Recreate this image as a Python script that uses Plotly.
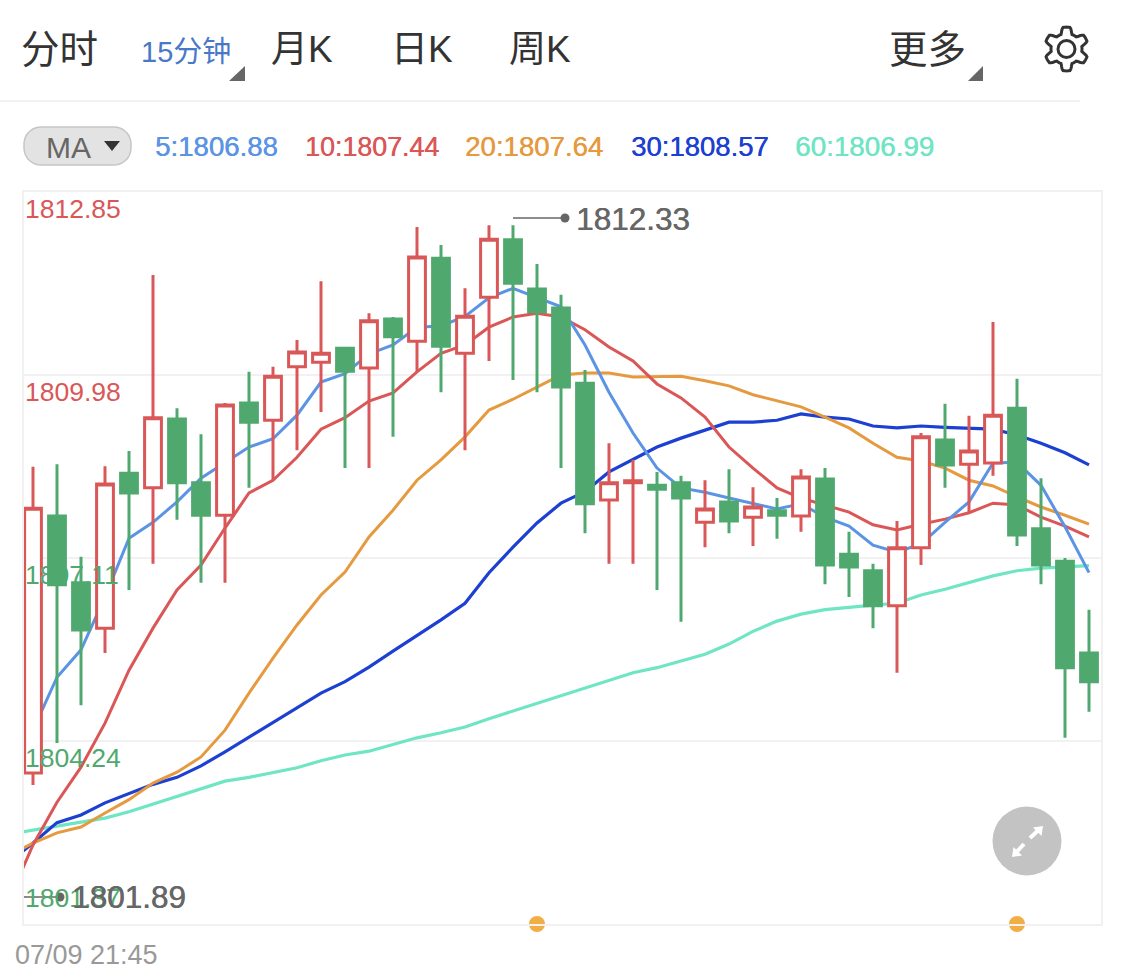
import math
import plotly.graph_objects as go

# ---------- data ----------
candle_index = list(range(45))
opens = [1803.74,1807.77,1806.72,1806.01,1808.44,1808.21,1809.29,1808.29,1807.78,1809.54,
         1809.27,1810.11,1810.18,1810.40,1810.09,1810.86,1810.51,1811.81,1810.32,1811.20,
         1812.10,1811.33,1811.03,1809.85,1808.02,1808.29,1808.25,1808.29,1807.67,1807.99,
         1807.75,1807.85,1807.77,1808.35,1807.17,1806.91,1806.36,1807.27,1808.96,1808.58,
         1808.60,1809.46,1807.57,1807.06,1805.62]
highs = [1808.54,1808.58,1807.13,1808.55,1808.79,1811.55,1809.46,1809.05,1809.54,1810.03,
         1810.11,1810.53,1811.45,1810.40,1810.95,1810.89,1812.30,1812.02,1811.34,1812.33,
         1812.33,1811.72,1811.24,1810.06,1808.91,1808.65,1808.46,1808.40,1808.33,1808.50,
         1808.22,1808.05,1808.50,1808.52,1807.52,1807.02,1807.69,1809.07,1809.53,1809.34,
         1810.81,1809.92,1808.36,1807.11,1806.30]
lows = [1803.55,1804.21,1804.80,1805.62,1806.61,1807.02,1807.71,1806.72,1806.72,1808.21,
        1808.33,1808.80,1809.40,1808.52,1808.52,1809.01,1810.03,1809.71,1808.80,1810.20,
        1809.90,1809.71,1808.52,1807.50,1807.02,1807.02,1806.61,1806.11,1807.28,1807.50,
        1807.30,1807.41,1807.52,1806.70,1806.50,1806.01,1805.31,1807.00,1808.21,1807.83,
        1808.40,1807.30,1806.70,1804.29,1804.70]
closes = [1807.89,1806.69,1805.98,1808.27,1808.13,1809.31,1808.29,1807.78,1809.51,1809.24,
          1809.96,1810.34,1810.32,1810.04,1810.83,1810.58,1811.83,1810.43,1810.90,1812.11,
          1811.42,1810.97,1809.79,1807.96,1808.29,1808.32,1808.19,1808.05,1807.88,1807.69,
          1807.91,1807.78,1808.38,1807.00,1806.97,1806.36,1807.27,1809.01,1808.57,1808.79,
          1809.35,1807.47,1807.00,1805.39,1805.17]

ma_index = list(range(-1, 45))
ma5 = [1803.47,1804.41,1805.24,1805.67,1806.50,1807.42,1807.67,1807.99,1808.36,1808.61,
       1808.85,1808.98,1809.35,1809.87,1810.00,1810.31,1810.45,1810.73,1810.75,1810.90,
       1811.19,1811.34,1811.19,1811.05,1810.45,1809.71,1809.07,1808.52,1808.21,1808.14,
       1808.05,1807.96,1807.88,1807.96,1807.75,1807.61,1807.31,1807.20,1807.33,1807.67,
       1807.99,1808.60,1808.61,1808.25,1807.60,1806.88]
ma10 = [1801.75,1802.61,1803.28,1803.83,1804.52,1805.35,1806.01,1806.61,1807.00,1807.58,
        1808.13,1808.33,1808.69,1809.13,1809.31,1809.57,1809.70,1810.03,1810.32,1810.45,
        1810.73,1810.89,1810.95,1810.89,1810.69,1810.42,1810.20,1809.84,1809.62,1809.32,
        1808.85,1808.52,1808.21,1808.05,1807.94,1807.83,1807.63,1807.55,1807.64,1807.72,
        1807.82,1807.97,1807.94,1807.75,1807.61,1807.44]
ma20 = [1802.44,1802.64,1802.80,1802.89,1803.11,1803.32,1803.58,1803.75,1803.99,1804.41,
        1804.99,1805.54,1806.06,1806.53,1806.89,1807.44,1807.86,1808.33,1808.65,1809.01,
        1809.43,1809.60,1809.79,1809.98,1810.01,1810.01,1809.95,1809.95,1809.96,1809.89,
        1809.81,1809.67,1809.57,1809.48,1809.32,1809.15,1808.91,1808.69,1808.63,1808.52,
        1808.33,1808.24,1808.07,1807.91,1807.78,1807.64]
ma30 = [1802.34,1802.64,1802.96,1803.08,1803.27,1803.42,1803.56,1803.67,1803.85,1804.07,
        1804.30,1804.54,1804.77,1804.99,1805.17,1805.40,1805.65,1805.89,1806.14,1806.40,
        1806.88,1807.28,1807.66,1807.97,1808.15,1808.46,1808.66,1808.85,1808.99,1809.12,
        1809.24,1809.24,1809.27,1809.37,1809.32,1809.29,1809.18,1809.15,1809.18,1809.16,
        1809.15,1809.13,1809.04,1808.91,1808.76,1808.57]
ma60 = [1802.78,1802.84,1802.91,1802.96,1803.03,1803.13,1803.25,1803.38,1803.50,1803.61,
        1803.67,1803.74,1803.82,1803.93,1804.02,1804.08,1804.18,1804.29,1804.37,1804.46,
        1804.59,1804.71,1804.84,1804.96,1805.07,1805.20,1805.31,1805.39,1805.50,1805.60,
        1805.76,1805.96,1806.12,1806.23,1806.30,1806.34,1806.37,1806.40,1806.53,1806.62,
        1806.73,1806.83,1806.91,1806.95,1806.97,1806.99]

price_ticks = [1812.85, 1809.98, 1807.11, 1804.24, 1801.37]
price_tick_labels = ["1812.85", "1809.98", "1807.11", "1804.24", "1801.37"]
event_index = [21, 41]
tabs = ["分时", "月K", "日K", "周K", "更多"]
active_tab = "15分钟"
ma_labels = ["5:1806.88", "10:1807.44", "20:1807.64", "30:1808.57", "60:1806.99"]
high_label = "1812.33"
low_label = "1801.89"
date_label = "07/09 21:45"

# ---------- styles ----------
RED, GREEN = "#D95757", "#4FA96E"
C5, C10, C20, C30, C60 = "#5B94E4", "#DB5656", "#E69A40", "#1C40D2", "#6FE5C4"
GRID = "#F1F1F1"
LATIN = "Liberation Sans, Noto Sans CJK SC"
W, H = 1125, 978
L, R, T, B = 24, 1101, 192, 924
XR = [-0.375, 44.5]
YR = [1801.37, 1812.85]


def px(x):
    return (x - L) / (R - L)


def py(y):
    return (B - y) / (B - T)


fig = go.Figure()
for vals, col, wd in [(ma60, C60, 3.2), (ma30, C30, 3.2), (ma20, C20, 3), (ma10, C10, 3), (ma5, C5, 3)]:
    fig.add_trace(go.Scatter(x=ma_index, y=vals, mode="lines", line=dict(color=col, width=wd),
                             hoverinfo="skip"))
fig.add_trace(go.Candlestick(
    x=candle_index, open=opens, high=highs, low=lows, close=closes,
    xaxis="x2", yaxis="y2", whiskerwidth=0,
    increasing=dict(line=dict(color=RED, width=3), fillcolor="#FFFFFF"),
    decreasing=dict(line=dict(color=GREEN, width=3), fillcolor=GREEN),
))
fig.add_trace(go.Scatter(x=event_index, y=[YR[0]] * len(event_index), mode="markers", xaxis="x2", yaxis="y2",
                         marker=dict(color="#F2AE44", size=16), cliponaxis=False, hoverinfo="skip"))


def label(x, y, text, size, color, heavy=False):
    font = dict(family=LATIN, size=size, color=color)
    if heavy:
        font["shadow"] = f"0.45px 0 0 {color}"
    fig.add_annotation(xref="paper", yref="paper", x=px(x), y=py(y), text=text, showarrow=False,
                       xanchor="left", yanchor="middle", borderpad=0, borderwidth=0, font=font)


label(21, 49, tabs[0], 38.5, "#333333")
for x, t in zip([271, 391, 509], tabs[1:4]):
    label(x, 49, t, 37, "#333333")
label(889, 49, tabs[4], 38.5, "#333333")
label(141, 52, active_tab, 29, "#4A78C8")
label(46, 147, "MA", 30, "#666666")
for x, y, t, c, s in zip([155, 305, 465, 631, 795], [146, 147, 146, 146, 146], ma_labels,
                         [C5, C10, C20, C30, C60], [27.6, 26.8, 27.6, 27.5, 27.8]):
    label(x, y, t, s, c, heavy=True)
for y, t, c in zip([209, 392, 575, 758, 898], price_tick_labels, [RED, RED, GREEN, GREEN, GREEN]):
    label(25, y, t, 26.5, c)
label(576, 219, high_label, 31.5, "#666666", heavy=True)
label(72, 897, low_label, 31.5, "#666666", heavy=True)
label(15, 955, date_label, 27, "#999999")


def poly(points, **kw):
    path = "M" + "L".join(f"{px(a):.5f},{py(b):.5f}" for a, b in points) + "Z"
    fig.add_shape(type="path", path=path, xref="paper", yref="paper", **kw)


def seg(x0, y0, x1, y1, color, width):
    fig.add_shape(type="line", xref="paper", yref="paper", x0=px(x0), y0=py(y0), x1=px(x1), y1=py(y1),
                  line=dict(color=color, width=width))


def circle(cx, cy, r, fill, line=None, lw=0):
    fig.add_shape(type="circle", xref="paper", yref="paper", x0=px(cx - r), x1=px(cx + r),
                  y0=py(cy + r), y1=py(cy - r), fillcolor=fill,
                  line=dict(color=line or fill, width=lw))


# header rule and corner triangles
seg(0, 101, 1080, 101, GRID, 2)
for a, b in [(229, 245), (968, 983)]:
    poly([(a, 81), (b, 81), (b, 66)], fillcolor="#666666", line=dict(width=0))

# MA pill
r = 17
pts = []
for cx, cy, s in [(131 - r, 127 + r, -90), (131 - r, 165 - r, 0), (24 + r, 165 - r, 90), (24 + r, 127 + r, 180)]:
    for k in range(0, 91, 10):
        a = math.radians(s + k)
        pts.append((cx + r * math.cos(a), cy + r * math.sin(a)))
fig.add_shape(type="path", path="M" + "L".join(f"{px(a):.5f},{py(b):.5f}" for a, b in pts) + "Z",
              xref="paper", yref="paper", fillcolor="#E3E3E3", line=dict(color="#C6C6C6", width=1.5), layer="below")
poly([(104, 141), (120, 141), (112, 151)], fillcolor="#333333", line=dict(width=0))

# gear (six lobes)
gear = []
for k in range(0, 360, 3):
    a = math.radians(k)
    rad = 18.7 + 3.2 * max(-1, min(1, -2.0 * math.cos(6 * a)))
    gear.append((1066.5 + rad * math.cos(a), 49 + rad * math.sin(a)))
poly(gear, line=dict(color="#333333", width=3))
circle(1066.5, 49, 8.5, "rgba(0,0,0,0)", "#333333", 3)

# high / low leaders
seg(513, 218, 565, 218, "#666666", 1.3)
circle(565, 218, 4.5, "#666666")
seg(24, 897, 60, 897, "#666666", 1.3)
circle(60, 897, 4.5, "#666666")

# expand button
circle(1027, 841, 34.5, "#C3C3C3")
poly([(1043, 826), (1041.5, 836), (1033, 827.5)], fillcolor="#FFFFFF", line=dict(width=0))
poly([(1012, 857), (1013.5, 847), (1022, 855.5)], fillcolor="#FFFFFF", line=dict(width=0))
seg(1030, 838, 1038, 830.5, "#FFFFFF", 4)
seg(1024, 844, 1017, 851.5, "#FFFFFF", 4)

fig.update_layout(
    width=W, height=H, margin=dict(l=L, r=W - R, t=T, b=H - B, pad=0),
    paper_bgcolor="#FFFFFF", plot_bgcolor="#FFFFFF", showlegend=False, boxgap=0,
    xaxis=dict(range=XR, showgrid=False, zeroline=False, showticklabels=False, ticks="",
               showline=True, mirror=True, linecolor=GRID, linewidth=2, fixedrange=True),
    yaxis=dict(range=YR, tickmode="array", tickvals=price_ticks, showticklabels=False, ticks="",
               showgrid=True, gridcolor=GRID, gridwidth=2, zeroline=False,
               showline=True, mirror=True, linecolor=GRID, linewidth=2, fixedrange=True),
    xaxis2=dict(range=XR, overlaying="x", anchor="y2", visible=False, rangeslider=dict(visible=False), fixedrange=True),
    yaxis2=dict(range=YR, overlaying="y", anchor="x2", visible=False, fixedrange=True),
)
fig.write_html("out.html", config=dict(displayModeBar=False),
               post_script="document.body.style.margin='0';document.documentElement.style.overflow='hidden';")
